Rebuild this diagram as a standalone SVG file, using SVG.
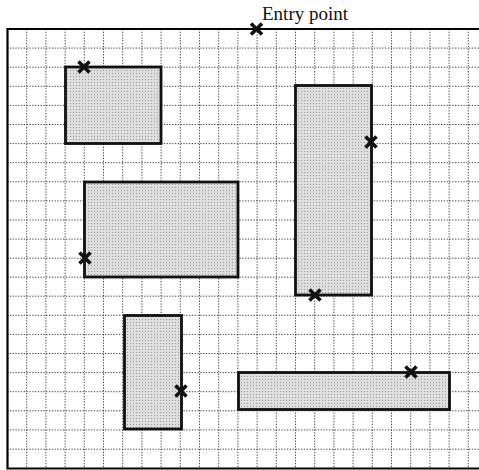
<svg xmlns="http://www.w3.org/2000/svg" width="479" height="470" viewBox="0 0 479 470">
<style>
.grid{stroke:#444;stroke-width:1;stroke-dasharray:1.3 1.5;fill:none}
.border{stroke:#000;stroke-width:2.2;fill:none}
.box{fill:url(#stip);stroke:#111;stroke-width:2.8}
.mk{stroke:#111;stroke-width:3.6;stroke-linecap:butt;fill:none}
.lbl{font-family:"Liberation Serif","Times New Roman",serif;font-size:19px;fill:#111}
</style>
<defs>
<pattern id="stip" width="3" height="3" patternUnits="userSpaceOnUse">
<rect width="3" height="3" fill="#dedede"/>
<rect x="1" y="1" width="1" height="1" fill="#999"/>
</pattern>
<path id="x" d="M-5.5,-5.5 L5.5,5.5 M-5.5,5.5 L5.5,-5.5"/>
</defs>
<rect width="479" height="470" fill="#fff"/>
<g id="grid">
<path class="grid" d="M26.7,29V469M45.9,29V469M65.1,29V469M84.3,29V469M103.5,29V469M122.7,29V469M141.9,29V469M161.1,29V469M180.3,29V469M199.5,29V469M218.7,29V469M237.9,29V469M257.1,29V469M276.3,29V469M295.5,29V469M314.7,29V469M333.9,29V469M353.1,29V469M372.3,29V469M391.5,29V469M410.7,29V469M429.9,29V469M449.1,29V469M468.3,29V469"/>
<path class="grid" d="M7,48.1H479M7,67.2H479M7,86.3H479M7,105.4H479M7,124.5H479M7,143.6H479M7,162.7H479M7,181.8H479M7,200.9H479M7,220H479M7,239.1H479M7,258.2H479M7,277.2H479M7,296.2H479M7,315.3H479M7,334.4H479M7,353.5H479M7,372.6H479M7,391.7H479M7,410.8H479M7,429.9H479M7,449.2H479"/>
<path class="border" d="M479,29H7.5V468.5H479"/>
</g>
<g id="connectors"></g>
<g id="box1"><rect class="box" x="65.5" y="67" width="95.5" height="76.5"/><use href="#x" class="mk" x="84" y="67"/></g>
<g id="box2"><rect class="box" x="84.5" y="182" width="153.5" height="95"/><use href="#x" class="mk" x="85" y="258"/></g>
<g id="box3"><rect class="box" x="295.5" y="85.5" width="76" height="209.5"/><use href="#x" class="mk" x="371" y="142"/><use href="#x" class="mk" x="315" y="295"/></g>
<g id="box4"><rect class="box" x="124.5" y="315.5" width="57" height="113.5"/><use href="#x" class="mk" x="181" y="391"/></g>
<g id="box5"><rect class="box" x="238.5" y="372.5" width="211" height="37"/><use href="#x" class="mk" x="411" y="372"/></g>
<g id="entry"><use href="#x" class="mk" x="256.5" y="29"/><text class="lbl" x="262" y="20">Entry point</text></g>
</svg>
